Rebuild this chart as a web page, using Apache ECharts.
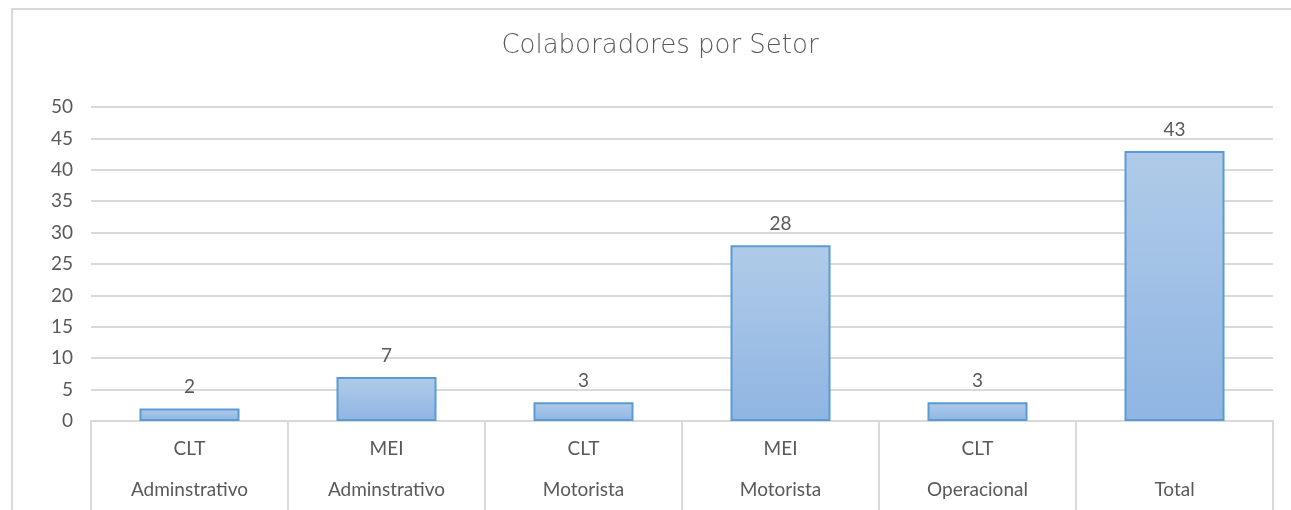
<!DOCTYPE html>
<html>
<head>
<meta charset="utf-8">
<script src="https://cdn.jsdelivr.net/npm/echarts@6/dist/echarts.min.js"></script>
<style>
  html, body { margin: 0; padding: 0; background: #fff; }
  #chart { width: 1291px; height: 510px; }
</style>
</head>
<body>
<div id="chart"></div>
<script>
const contractTypes = ['CLT', 'MEI', 'CLT', 'MEI', 'CLT', ''];
const sectors = ['Adminstrativo', 'Adminstrativo', 'Motorista', 'Motorista', 'Operacional', 'Total'];
const headcount = [2, 7, 3, 28, 3, 43];

const categories = sectors.map(function (s, i) {
    return (contractTypes[i] || ' ') + '\n' + s;
});

const chart = echarts.init(document.getElementById('chart'));
const textColor = '#595959';
const lineColor = '#d9d9d9';

chart.setOption({
    animation: false,
    graphic: [{
        type: 'polyline',
        shape: { points: [[12, 520], [12, 9], [1300, 9]] },
        style: { stroke: lineColor, lineWidth: 2, fill: null }
    }],
    title: {
        text: 'Colaboradores por Setor',
        left: 655,
        textAlign: 'center',
        top: 28,
        textStyle: {
            fontFamily: 'DejaVu Sans',
            fontWeight: 200,
            fontSize: 26,
            color: textColor
        }
    },
    grid: { left: 91, right: 18, top: 107, bottom: 87 },
    xAxis: {
        type: 'category',
        data: categories,
        axisLine: { lineStyle: { color: lineColor, width: 2 } },
        axisTick: {
            show: true,
            interval: 0,
            length: 100,
            lineStyle: { color: lineColor, width: 2 }
        },
        axisLabel: {
            interval: 0,
            margin: 7,
            fontFamily: 'Lato',
            fontSize: 19,
            color: textColor,
            lineHeight: 41
        }
    },
    yAxis: {
        type: 'value',
        min: 0,
        max: 50,
        interval: 5,
        axisLine: { show: false },
        axisTick: { show: false },
        axisLabel: {
            margin: 18,
            fontFamily: 'Lato',
            fontSize: 19,
            color: textColor
        },
        splitLine: { lineStyle: { color: lineColor, width: 2 } }
    },
    series: [{
        type: 'bar',
        data: headcount,
        barWidth: 100,
        itemStyle: {
            color: new echarts.graphic.LinearGradient(0, 0, 0, 1, [
                { offset: 0, color: '#b0cbe9' },
                { offset: 1, color: '#8fb5e2' }
            ]),
            borderColor: '#5b9bd5',
            borderWidth: 2
        },
        label: {
            show: true,
            position: 'top',
            distance: 12,
            fontFamily: 'Lato',
            fontSize: 19,
            color: textColor
        }
    }]
});
</script>
</body>
</html>
